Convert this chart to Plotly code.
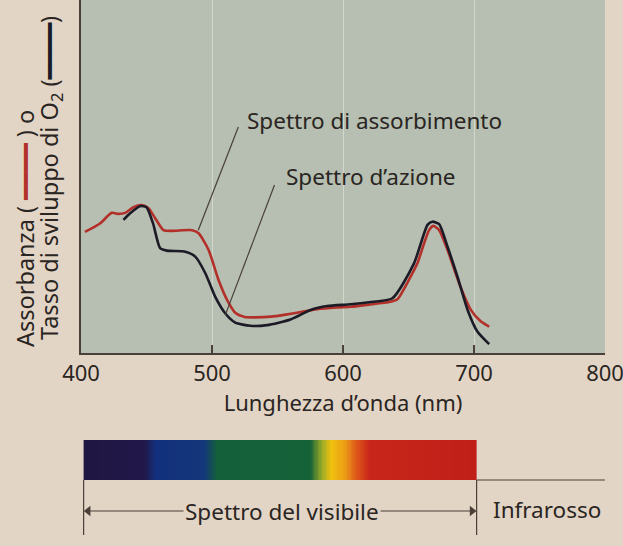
import numpy as np
import plotly.graph_objects as go

# ---------------- data ----------------
abs_nm = [403, 414.5, 423.5, 428.6, 433.7, 440, 446.4, 451.5, 456.6, 463, 469.4,
          484.7, 489.8, 497.4, 505, 512, 518, 525, 533, 545, 555, 568, 580, 595,
          606, 620, 636, 641.5, 651, 656.8, 661.9, 665.7, 669, 673.4, 679.8,
          688.7, 697.6, 705.3, 711.6]
abs_val = [34.3, 36.7, 39.7, 39.4, 39.7, 41.3, 41.9, 41.0, 38.2, 34.8, 34.6,
           34.8, 33.9, 29.2, 20.7, 14.7, 11.3, 10.2, 10.1, 10.3, 10.8, 11.6, 12.4, 12.9,
           13.1, 13.7, 14.5, 15.2, 21.2, 25.4, 31.1, 34.8, 36.0, 34.8, 29.2,
           19.7, 12.2, 8.9, 7.5]

act_nm = [432.4, 437.5, 445, 450, 455, 460.4, 465.5, 479.6, 487.2, 494.9, 502.5,
          510.2, 517.8, 529.3, 542, 559.9, 575.2, 588, 605.8, 620, 637.7, 654.2,
          664.5, 668.3, 673.4, 679.8, 687.4, 695.1, 702.7, 711.6]
act_val = [37.7, 39.6, 41.6, 41.3, 36.7, 29.7, 29.0, 28.7, 27.3, 22.6, 15.9,
           11.2, 8.6, 7.7, 7.9, 9.5, 12.2, 13.3, 13.8, 14.4, 15.5, 25.4,
           36.3, 37.2, 36.5, 30.1, 21.6, 12.2, 6.0, 2.5]

x_ticks = [400, 500, 600, 700, 800]
tick_labels = ["400", "500", "600", "700", "800"]

# visible spectrum band (wavelength -> colour)
visible_range = [402, 702]
spectrum_nm = [402, 449, 457, 494, 504, 575, 584, 591, 601, 610, 620, 702]
spectrum_col = ['#1f1642', '#21184a', '#12307c', '#14367a', '#14603a', '#166238',
                '#9aac28', '#f1c00e', '#eba016', '#e05a1a', '#c8261a', '#bf1f18']

# label anchor points (wavelength, value) on the curves
abs_label_from = (520.1, 64.0)
abs_label_to = (489.5, 34.8)
act_label_from = (547.7, 47.6)
act_label_to = (510.2, 10.8)

# ---------------- styling ----------------
FONT = "Noto Sans"
TXT = "#2a2522"
PAGE = "#e3d5c6"
PLOT = "#b6bfb1"
AXC = "#4a4038"
RED = "#b3302a"
BLK = "#1b1a26"
FS = 22.5

W, H = 623, 546
px = lambda p: 1 - p / H   # pixel row -> paper y (margins are 0 vertically)

fig = go.Figure()

fig.add_trace(go.Scatter(x=abs_nm, y=abs_val, mode="lines",
                         line=dict(color=RED, width=2.6, shape="spline", smoothing=0.6),
                         showlegend=False, hoverinfo="skip"))
fig.add_trace(go.Scatter(x=act_nm, y=act_val, mode="lines",
                         line=dict(color=BLK, width=2.6, shape="spline", smoothing=0.6),
                         showlegend=False, hoverinfo="skip"))

# spectrum bar as heatmap
edges = np.arange(visible_range[0], visible_range[1] + 1, 1.0)
centers = (edges[:-1] + edges[1:]) / 2
lo, hi = visible_range
cscale = [[(w - lo) / (hi - lo), c] for w, c in zip(spectrum_nm, spectrum_col)]
fig.add_trace(go.Heatmap(x=edges, y=[0, 1], z=[centers], colorscale=cscale,
                         zmin=lo, zmax=hi, showscale=False, hoverinfo="skip",
                         xaxis="x2", yaxis="y2"))

# double-headed arrow of the visible range (bottom strip axes)
fig.add_trace(go.Scatter(x=[visible_range[0] + 3.5, visible_range[1] - 3.5], y=[0.53, 0.53],
                         mode="lines+markers", xaxis="x3", yaxis="y3",
                         line=dict(color=AXC, width=1.2),
                         marker=dict(symbol=["triangle-left", "triangle-right"], size=9,
                                     color=AXC, line=dict(width=0)),
                         showlegend=False, hoverinfo="skip", cliponaxis=False))

main_dom = [px(353), 1]
bar_dom = [px(480), px(440)]
strip_dom = [0, px(480)]

fig.update_layout(
    width=W, height=H,
    margin=dict(l=81, r=18, t=0, b=0),
    paper_bgcolor=PAGE, plot_bgcolor="rgba(0,0,0,0)",
    font=dict(family=FONT, color=TXT, size=FS),
    xaxis=dict(range=[400, 800], domain=[0, 1], anchor="y",
               tickvals=x_ticks, ticktext=tick_labels,
               ticks="inside", ticklen=8, tickwidth=1.5, tickcolor=AXC,
               ticklabeloverflow="allow",
               showline=True, linecolor=AXC, linewidth=1.5,
               showgrid=True, gridcolor="#d3d7cb", gridwidth=1,
               zeroline=False, tickfont=dict(size=22, color=TXT),
               title=dict(text="Lunghezza d’onda (nm)", font=dict(size=22, color=TXT),
                          standoff=3)),
    yaxis=dict(range=[0, 100], domain=main_dom, anchor="x",
               showticklabels=False, ticks="", showgrid=False, zeroline=False,
               showline=True, linecolor=AXC, linewidth=1.5),
    xaxis2=dict(range=[400, 800], domain=[0, 1], anchor="y2", visible=False),
    yaxis2=dict(range=[0, 1], domain=bar_dom, anchor="x2", visible=False),
    xaxis3=dict(range=[400, 800], domain=[0, 1], anchor="y3", visible=False),
    yaxis3=dict(range=[0, 1], domain=strip_dom, anchor="x3", visible=False),
)

# green plot background
fig.add_shape(type="rect", xref="x domain", yref="y domain", x0=0, x1=1, y0=0, y1=1,
              fillcolor=PLOT, line=dict(width=0), layer="below")

# leader lines
for (x0, y0), (x1, y1) in [(abs_label_from, abs_label_to), (act_label_from, act_label_to)]:
    fig.add_shape(type="line", xref="x", yref="y", x0=x0, y0=y0, x1=x1, y1=y1,
                  line=dict(color=AXC, width=1.2))

fig.add_annotation(x=525.5, y=66.0, xref="x", yref="y", text="Spettro di assorbimento",
                   showarrow=False, xanchor="left", yanchor="middle", font=dict(size=FS))
fig.add_annotation(x=554.6, y=49.9, xref="x", yref="y", text="Spettro d’azione",
                   showarrow=False, xanchor="left", yanchor="middle", font=dict(size=FS))

# y-axis titles
DASH = "<span style='font-family:DejaVu Sans Mono;color:%s'>━━━━</span>"
fig.add_annotation(x=(25 - 81) / 524, y=px(229), xref="paper", yref="paper",
                   text="Assorbanza ( " + DASH % RED + " ) o",
                   textangle=-90, showarrow=False, xanchor="center", yanchor="middle",
                   font=dict(size=23.5))
fig.add_annotation(x=(51 - 81) / 524, y=px(178), xref="paper", yref="paper",
                   text="Tasso di sviluppo di O<sub>2</sub> (" + DASH % BLK + ")",
                   textangle=-90, showarrow=False, xanchor="center", yanchor="middle",
                   font=dict(size=23.5))

# lines under the spectrum bar
fig.add_shape(type="line", xref="x", yref="paper", x0=visible_range[1], x1=800,
              y0=px(480), y1=px(480), line=dict(color=AXC, width=1.2))
for xv in visible_range:
    fig.add_shape(type="line", xref="x", yref="paper", x0=xv, x1=xv,
                  y0=px(480), y1=px(535), line=dict(color=AXC, width=1.2))

fig.add_annotation(x=553.8, y=px(511), xref="x", yref="paper", text="Spettro del visibile",
                   showarrow=False, xanchor="center", yanchor="middle",
                   bgcolor=PAGE, borderpad=1, font=dict(size=FS))
fig.add_annotation(x=712.9, y=px(509), xref="x", yref="paper", text="Infrarosso",
                   showarrow=False, xanchor="left", yanchor="middle", font=dict(size=FS))

fig.write_html("out.html")
